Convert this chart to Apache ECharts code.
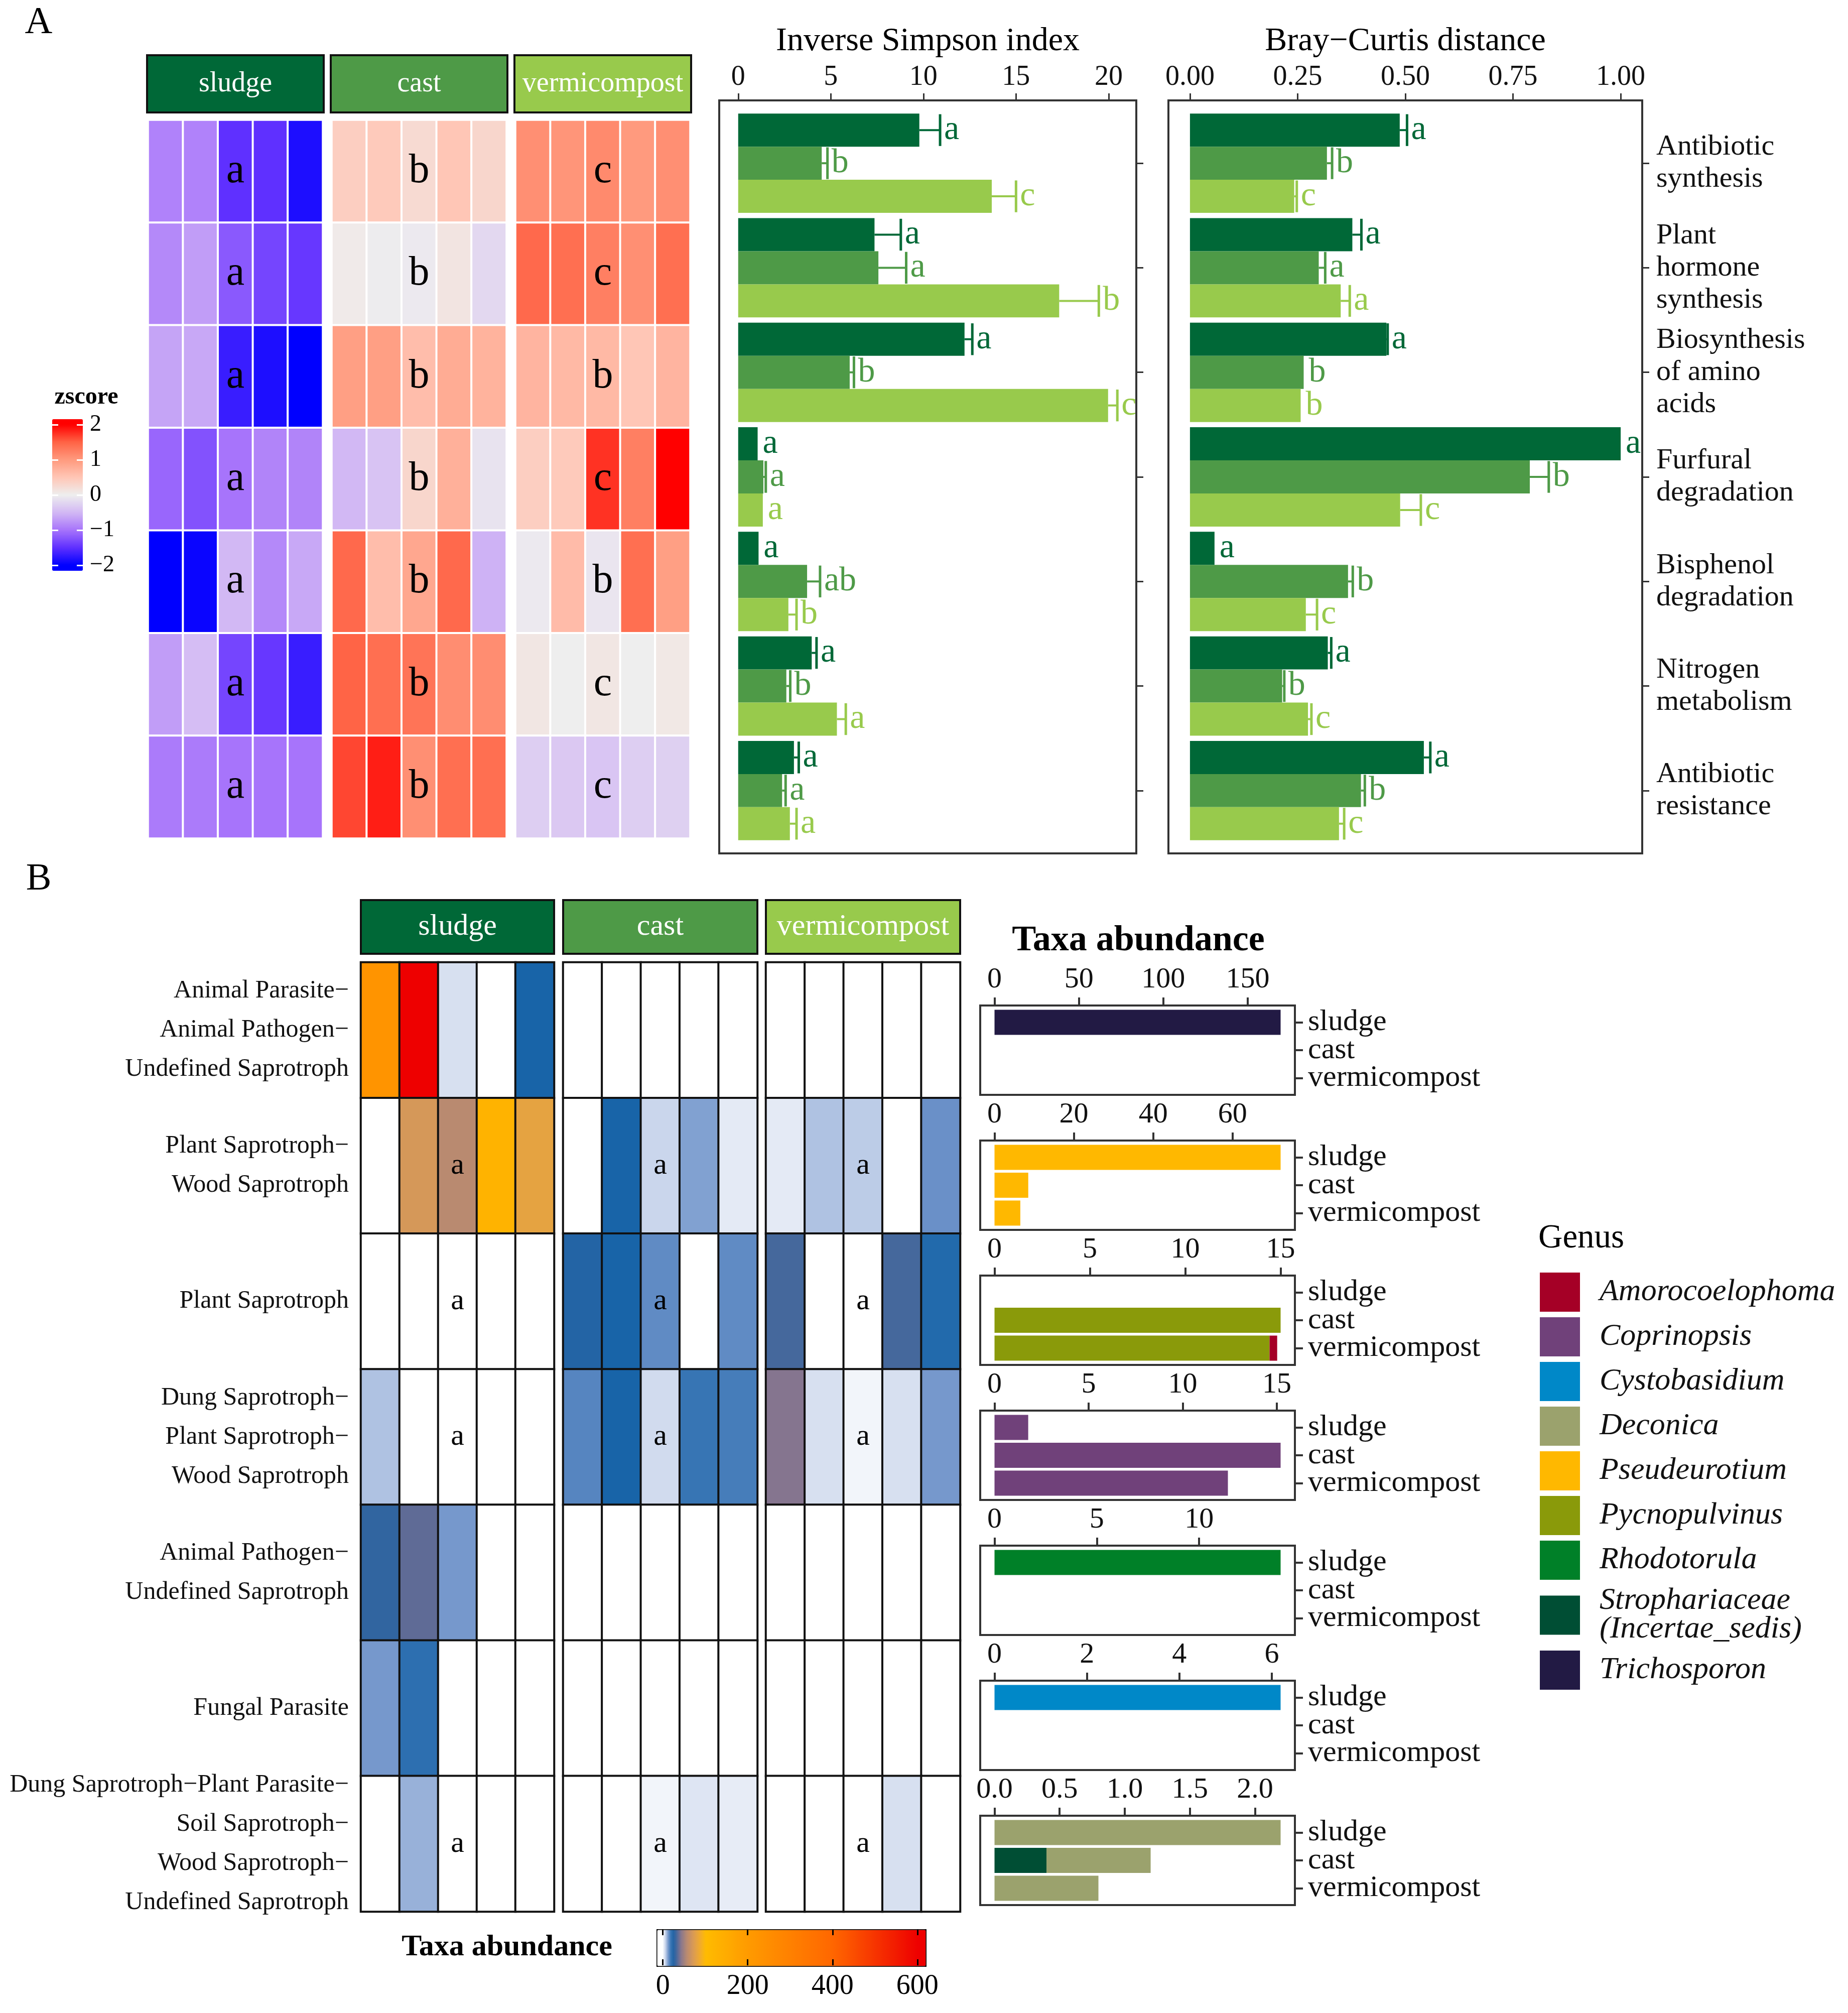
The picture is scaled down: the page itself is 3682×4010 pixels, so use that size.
<!DOCTYPE html>
<html><head><meta charset="utf-8">
<script src="https://cdn.jsdelivr.net/npm/echarts@6/dist/echarts.min.js"></script>
<style>html,body{margin:0;padding:0;background:#fff}#c{width:3682px;height:4010px}</style>
</head><body><div id="c"></div>
<script>
// ================= DATA =================
const groups = ['sludge', 'cast', 'vermicompost'];
const functionsA = ['Antibiotic\nsynthesis', 'Plant\nhormone\nsynthesis', 'Biosynthesis\nof amino\nacids',
  'Furfural\ndegradation', 'Bisphenol\ndegradation', 'Nitrogen\nmetabolism', 'Antibiotic\nresistance'];
const sampleCols = ['1', '2', '3', '4', '5'];
const zscoreTicks = [2, 1, 0, -1, -2];

// z-score heatmap (rows = functionsA, 5 replicates per group)
const heatA_sludge = [
  [-0.9, -0.9, -1.5, -1.5, -1.85],
  [-0.85, -0.7, -1.2, -1.35, -1.45],
  [-0.65, -0.62, -1.7, -1.85, -2.05],
  [-1.1, -1.25, -1.0, -0.88, -0.88],
  [-2.05, -1.95, -0.5, -0.85, -0.62],
  [-0.7, -0.45, -1.35, -1.45, -1.7],
  [-0.95, -0.95, -1.0, -1.0, -1.0]];
const heatA_cast = [
  [0.4, 0.45, 0.25, 0.5, 0.3],
  [0.05, -0.02, -0.05, 0.12, -0.2],
  [0.95, 0.95, 0.6, 0.8, 0.72],
  [-0.5, -0.4, 0.3, 0.75, -0.1],
  [1.45, 0.6, 0.85, 1.45, -0.55],
  [1.5, 1.4, 1.35, 1.12, 1.12],
  [1.65, 1.85, 1.1, 1.4, 1.4]];
const heatA_vermi = [
  [1.1, 1.05, 1.15, 1.0, 1.1],
  [1.45, 1.4, 1.25, 1.1, 1.4],
  [0.7, 0.65, 0.65, 0.5, 0.7],
  [0.4, 0.45, 1.75, 1.25, 2.05],
  [-0.05, 0.62, -0.08, 1.4, 0.95],
  [0.1, 0.0, 0.1, 0.0, 0.08],
  [-0.3, -0.35, -0.38, -0.3, -0.28]];
const heatA_letters_sludge = ['a', 'a', 'a', 'a', 'a', 'a', 'a'];
const heatA_letters_cast = ['b', 'b', 'b', 'b', 'b', 'b', 'b'];
const heatA_letters_vermi = ['c', 'c', 'b', 'c', 'b', 'c', 'c'];

// Inverse Simpson index
const invSimpsonTicks = [0, 5, 10, 15, 20];
const invMean_sludge = [9.78, 7.36, 12.22, 1.05, 1.10, 3.97, 3.01];
const invUpper_sludge = [10.90, 8.78, 12.64, 1.05, 1.10, 4.23, 3.27];
const invMean_cast = [4.51, 7.57, 6.02, 1.36, 3.72, 2.60, 2.37];
const invUpper_cast = [4.82, 9.07, 6.25, 1.49, 4.42, 2.81, 2.56];
const invMean_vermi = [13.69, 17.33, 19.97, 1.33, 2.71, 5.33, 2.79];
const invUpper_vermi = [15.00, 19.47, 20.47, 1.33, 3.15, 5.81, 3.15];
const invLetters_sludge = ['a', 'a', 'a', 'a', 'a', 'a', 'a'];
const invLetters_cast = ['b', 'a', 'b', 'a', 'ab', 'b', 'a'];
const invLetters_vermi = ['c', 'b', 'c', 'a', 'b', 'a', 'a'];

// Bray-Curtis distance
const brayTicks = [0, 0.25, 0.5, 0.75, 1.0];
const brayMean_sludge = [0.487, 0.377, 0.456, 1.000, 0.057, 0.320, 0.543];
const brayUpper_sludge = [0.504, 0.398, 0.459, 1.000, 0.057, 0.328, 0.558];
const brayMean_cast = [0.318, 0.299, 0.264, 0.789, 0.367, 0.214, 0.397];
const brayUpper_cast = [0.330, 0.314, 0.264, 0.833, 0.378, 0.219, 0.406];
const brayMean_vermi = [0.242, 0.350, 0.257, 0.488, 0.269, 0.274, 0.346];
const brayUpper_vermi = [0.248, 0.371, 0.257, 0.536, 0.295, 0.282, 0.358];
const brayLetters_sludge = ['a', 'a', 'a', 'a', 'a', 'a', 'a'];
const brayLetters_cast = ['b', 'a', 'b', 'b', 'b', 'b', 'b'];
const brayLetters_vermi = ['c', 'a', 'b', 'c', 'c', 'c', 'c'];

// Panel B: fungal guild heatmap (taxa abundance)
const guildsB = ['Animal Parasite\u2212\nAnimal Pathogen\u2212\nUndefined Saprotroph',
  'Plant Saprotroph\u2212\nWood Saprotroph',
  'Plant Saprotroph',
  'Dung Saprotroph\u2212\nPlant Saprotroph\u2212\nWood Saprotroph',
  'Animal Pathogen\u2212\nUndefined Saprotroph',
  'Fungal Parasite',
  'Dung Saprotroph\u2212Plant Parasite\u2212\nSoil Saprotroph\u2212\nWood Saprotroph\u2212\nUndefined Saprotroph'];
const abundTicks = [0, 200, 400, 600];
const heatB_sludge = [
  [225, 600, 3, 0, 20],
  [0, 68, 55, 125, 78],
  [0, 0, 0, 0, 0],
  [6, 0, 0, 0, 0],
  [27, 34, 11, 0, 0],
  [11, 18, 0, 0, 0],
  [0, 8, 0, 0, 0]];
const heatB_cast = [
  [0, 0, 0, 0, 0],
  [0, 20, 4, 10, 2],
  [23, 20, 13, 0, 13],
  [14, 20, 3.5, 17, 15.5],
  [0, 0, 0, 0, 0],
  [0, 0, 0, 0, 0],
  [0, 0, 1, 2.5, 1.8]];
const heatB_vermi = [
  [0, 0, 0, 0, 0],
  [2, 6, 5, 0, 12],
  [30, 0, 0, 30, 19],
  [40, 3, 1, 3, 11],
  [0, 0, 0, 0, 0],
  [0, 0, 0, 0, 0],
  [0, 0, 0, 3, 0]];
const heatB_letters = ['', 'a', 'a', 'a', '', '', 'a'];

// Panel B: genus bars (sludge, cast, vermicompost)
const genusNames = ['Amorocoelophoma', 'Coprinopsis', 'Cystobasidium', 'Deconica', 'Pseudeurotium',
  'Pycnopulvinus', 'Rhodotorula', 'Strophariaceae\n(Incertae_sedis)', 'Trichosporon'];
const bar1_Trichosporon = [169.5, 0, 0];
const bar2_Pseudeurotium = [72.1, 8.5, 6.5];
const bar3_Pycnopulvinus = [0, 15.0, 14.42];
const bar3_Amorocoelophoma = [0, 0, 0.40];
const bar4_Coprinopsis = [1.79, 15.2, 12.4];
const bar5_Rhodotorula = [13.98, 0, 0];
const bar6_Cystobasidium = [6.19, 0, 0];
const bar7_Strophariaceae = [0, 0.399, 0];
const bar7_Deconica = [2.197, 0.80, 0.798];
const bar1_ticks = [0, 50, 100, 150];
const bar2_ticks = [0, 20, 40, 60];
const bar3_ticks = [0, 5, 10, 15];
const bar4_ticks = [0, 5, 10, 15];
const bar5_ticks = [0, 5, 10];
const bar6_ticks = [0, 2, 4, 6];
const bar7_ticks = [0, 0.5, 1.0, 1.5, 2.0];

// ================= STYLE =================
const FONT = 'Liberation Serif';
const groupColors = ['#006837', '#4E9A47', '#98CA4C'];
const genusColors = {
  'Amorocoelophoma': '#A50026', 'Coprinopsis': '#70417A', 'Cystobasidium': '#0088C8', 'Deconica': '#9BA26D',
  'Pseudeurotium': '#FFB800', 'Pycnopulvinus': '#8A9A0A', 'Rhodotorula': '#008028',
  'Strophariaceae\n(Incertae_sedis)': '#004E34', 'Trichosporon': '#221A44'};
const zStops = [[-2, '#0000FF'], [-1.5, '#5F30FF'], [-1, '#A774FB'], [-0.5, '#D2B8F4'], [0, '#EEEEEE'],
  [0.5, '#FFC6B6'], [1, '#FF9A7E'], [1.5, '#FF6446'], [2, '#FF0000']];
const abundStops = [[0, '#FFFFFF'], [2, '#E4EAF5'], [6, '#AFC2E2'], [12, '#6A90C8'], [20, '#1864A8'],
  [27, '#3165A0'], [34, '#5F6B96'], [40, '#85758F'], [55, '#B98A70'], [70, '#D99A55'], [85, '#F0AA30'],
  [100, '#FFBB00'], [200, '#FF9A00'], [400, '#FF6600'], [600, '#EE0000']];

function hex2rgb(h) { return [1, 3, 5].map(i => parseInt(h.substr(i, 2), 16)); }
function colorAt(stops, v) {
  if (v <= stops[0][0]) return stops[0][1];
  if (v >= stops[stops.length - 1][0]) return stops[stops.length - 1][1];
  for (let i = 0; i < stops.length - 1; i++) {
    const a = stops[i], b = stops[i + 1];
    if (v >= a[0] && v <= b[0]) {
      const t = (v - a[0]) / (b[0] - a[0]);
      const ca = hex2rgb(a[1]), cb = hex2rgb(b[1]);
      const c = ca.map((x, k) => Math.round(x + (cb[k] - x) * t));
      return 'rgb(' + c.join(',') + ')';
    }
  }
}
function sampleColors(stops, lo, hi, n) {
  const out = [];
  for (let i = 0; i < n; i++) out.push(colorAt(stops, lo + (hi - lo) * i / (n - 1)));
  return out;
}

const grids = [], xAxes = [], yAxes = [], series = [], graphics = [];
function addCartesian(g, xo, yo) {
  const gi = grids.length;
  grids.push(Object.assign({outerBoundsMode: 'none', containLabel: false, show: false}, g));
  const xi = xAxes.length; xAxes.push(Object.assign({gridIndex: gi}, xo));
  const yi = yAxes.length; yAxes.push(Object.assign({gridIndex: gi}, yo));
  return {gi, xi, yi};
}
function txt(text, x, y, size, opts) {
  graphics.push({type: 'text', x, y, z: 50, style: Object.assign({
    text, fill: '#000', font: (opts && opts.weight ? opts.weight + ' ' : '') + size + 'px "' + FONT + '"',
    textAlign: 'center', textVerticalAlign: 'middle'}, opts && opts.style)});
}
function frame(x, y, w, h) {
  graphics.push({type: 'rect', z: 40, shape: {x, y, width: w, height: h},
    style: {fill: 'none', stroke: '#333', lineWidth: 4}});
}
function strip(x, y, w, h, color, label, size) {
  graphics.push({type: 'rect', z: 40, shape: {x, y, width: w, height: h},
    style: {fill: color, stroke: '#111', lineWidth: 4}});
  txt(label, x + w / 2, y + h / 2, size, {style: {fill: '#fff'}});
}
const AXLINE = {show: true, onZero: false, lineStyle: {color: '#333', width: 4}};

// ---------- Panel A heatmap ----------
txt('A', 77, 46, 76);
const heatA = [heatA_sludge, heatA_cast, heatA_vermi];
const heatALetters = [heatA_letters_sludge, heatA_letters_cast, heatA_letters_vermi];
const heatALeft = [295, 661, 1027];
const heatASeries = [];
for (let g = 0; g < 3; g++) {
  strip(heatALeft[g] - 2, 110, 352, 114, groupColors[g], groups[g], 56);
  const ax = addCartesian({left: heatALeft[g], top: 239, width: 348, height: 1431},
    {type: 'category', data: sampleCols, show: false},
    {type: 'category', data: functionsA, inverse: true, show: false});
  heatASeries.push(series.length);
  const letters = heatALetters[g];
  series.push({type: 'heatmap', xAxisIndex: ax.xi, yAxisIndex: ax.yi,
    data: heatA[g].flatMap((row, r) => row.map((v, c) => [c, r, v])),
    itemStyle: {borderColor: '#fff', borderWidth: 4},
    emphasis: {disabled: true},
    label: {show: true, fontFamily: FONT, fontSize: 82, color: '#000',
      formatter: p => (p.data[0] === 2 ? letters[p.data[1]] : '')}});
}
// zscore legend axes
txt('zscore', 172, 792, 48, {weight: 'bold'});
const zAx = addCartesian({left: 104, top: 835, width: 61, height: 302},
  {type: 'value', show: false, min: 0, max: 1},
  {type: 'value', min: -2.16, max: 2.16, position: 'right', z: 10,
    axisLine: {show: false, onZero: false}, splitLine: {show: false},
    axisTick: {show: true, inside: true, length: 12, lineStyle: {color: '#fff', width: 3}, customValues: zscoreTicks},
    axisLabel: {show: true, customValues: zscoreTicks, margin: 14, fontSize: 46, fontFamily: FONT, color: '#000',
      formatter: v => String(v).replace('-', '\u2212')}});
yAxes.push({gridIndex: zAx.gi, type: 'value', min: -2.16, max: 2.16, position: 'left', z: 10,
  axisLine: {show: false, onZero: false}, splitLine: {show: false},
  axisTick: {show: true, inside: true, length: 12, lineStyle: {color: '#fff', width: 3}, customValues: zscoreTicks},
  axisLabel: {show: false}});

// ---------- Panel A bar charts ----------
function errSeries(ax, means, uppers, letters, k, color) {
  return {type: 'custom', xAxisIndex: ax.xi, yAxisIndex: ax.yi, clip: false, z: 5,
    encode: {x: [1, 2], y: 0}, silent: true,
    data: means.map((m, i) => [i, m, uppers[i]]),
    renderItem: (params, api) => {
      const cat = api.value(0), m = api.value(1), u = api.value(2);
      const p0 = api.coord([m, cat]), p1 = api.coord([u, cat]);
      const band = api.size([0, 1])[1];
      const bh = band * 0.95 / 3;
      const y = p0[1] + (k - 1) * bh;
      const ch = [];
      const has = u > m;
      if (has) {
        ch.push({type: 'line', shape: {x1: p0[0], y1: y, x2: p1[0], y2: y}, style: {stroke: color, lineWidth: 4}});
        ch.push({type: 'line', shape: {x1: p1[0], y1: y - bh * 0.48, x2: p1[0], y2: y + bh * 0.48},
          style: {stroke: color, lineWidth: 5}});
      }
      ch.push({type: 'text', style: {text: letters[params.dataIndex], x: p1[0] + (has ? 8 : 10), y: y,
        fill: color, font: '68px "' + FONT + '"', textAlign: 'left', textVerticalAlign: 'middle'}});
      return {type: 'group', children: ch};
    }};
}
function barPanelA(left, width, title, ticks, fmt, means, uppers, letters, showLabels) {
  const M = Math.max(...uppers.flat());
  frame(left, 200, width, 1500);
  const ax = addCartesian({left: left, top: 221, width: width, height: 1458},
    {type: 'value', position: 'top', offset: 21, min: -0.05 * M, max: 1.05 * M,
      axisLine: AXLINE, splitLine: {show: false},
      axisTick: {show: true, length: 14, lineStyle: {color: '#333', width: 3}, customValues: ticks},
      axisLabel: {show: true, customValues: ticks, margin: 18, fontSize: 56, fontFamily: FONT, color: '#111', formatter: fmt},
      name: title, nameLocation: 'middle', nameGap: 84,
      nameTextStyle: {fontSize: 66, fontFamily: FONT, color: '#000'}},
    {type: 'category', data: functionsA, inverse: true, position: 'right',
      axisLine: AXLINE,
      axisTick: {show: true, alignWithLabel: true, interval: 0, length: 14, lineStyle: {color: '#333', width: 3}},
      axisLabel: {show: showLabels, interval: 0, align: 'left', margin: 28, fontSize: 58, lineHeight: 64,
        fontFamily: FONT, color: '#111'}});
  for (let k = 0; k < 3; k++) {
    series.push({type: 'bar', xAxisIndex: ax.xi, yAxisIndex: ax.yi, data: means[k], barGap: '0%',
      barCategoryGap: '5%', itemStyle: {color: groupColors[k]}, silent: true});
  }
  for (let k = 0; k < 3; k++) series.push(errSeries(ax, means[k], uppers[k], letters[k], k, groupColors[k]));
}
barPanelA(1433, 831, 'Inverse Simpson index', invSimpsonTicks, v => String(v),
  [invMean_sludge, invMean_cast, invMean_vermi], [invUpper_sludge, invUpper_cast, invUpper_vermi],
  [invLetters_sludge, invLetters_cast, invLetters_vermi], false);
barPanelA(2328, 944, 'Bray\u2212Curtis distance', brayTicks, v => v.toFixed(2),
  [brayMean_sludge, brayMean_cast, brayMean_vermi], [brayUpper_sludge, brayUpper_cast, brayUpper_vermi],
  [brayLetters_sludge, brayLetters_cast, brayLetters_vermi], true);

// ---------- Panel B heatmap ----------
txt('B', 77, 1752, 76);
const heatB = [heatB_sludge, heatB_cast, heatB_vermi];
const heatBLeft = [719, 1122, 1526];
const heatBW = [385, 387, 387];
const heatBSeries = [];
for (let g = 0; g < 3; g++) {
  strip(heatBLeft[g], 1793, heatBW[g], 107, groupColors[g], groups[g], 60);
  const ax = addCartesian({left: heatBLeft[g], top: 1917, width: heatBW[g], height: 1891},
    {type: 'category', data: sampleCols, show: false},
    {type: 'category', data: guildsB, inverse: true, show: g === 0, position: 'left',
      axisLine: {show: false, onZero: false}, axisTick: {show: false},
      axisLabel: {interval: 0, align: 'right', margin: 24, fontSize: 50, lineHeight: 78,
        fontFamily: FONT, color: '#111'}});
  heatBSeries.push(series.length);
  series.push({type: 'heatmap', xAxisIndex: ax.xi, yAxisIndex: ax.yi,
    data: heatB[g].flatMap((row, r) => row.map((v, c) => [c, r, v])),
    itemStyle: {borderColor: '#111', borderWidth: 4},
    emphasis: {disabled: true},
    label: {show: true, fontFamily: FONT, fontSize: 60, color: '#000',
      formatter: p => (p.data[0] === 2 ? heatB_letters[p.data[1]] : '')}});
}
// colorbar axes
txt('Taxa abundance', 1010, 3879, 60, {weight: 'bold'});
const cbAx = addCartesian({left: 1308, top: 3843, width: 535, height: 72},
  {type: 'value', min: -15, max: 618, position: 'bottom', z: 10,
    axisLine: {show: false, onZero: false}, splitLine: {show: false},
    axisTick: {show: true, inside: true, length: 12, lineStyle: {color: '#000', width: 3}, customValues: abundTicks},
    axisLabel: {show: true, customValues: abundTicks, margin: 14, fontSize: 56, fontFamily: FONT, color: '#000'}},
  {type: 'value', show: false, min: 0, max: 1});
xAxes.push({gridIndex: cbAx.gi, type: 'value', min: -15, max: 618, position: 'top', z: 10,
  axisLine: {show: false, onZero: false}, splitLine: {show: false},
  axisTick: {show: true, inside: true, length: 12, lineStyle: {color: '#000', width: 3}, customValues: abundTicks},
  axisLabel: {show: false}});

// ---------- Panel B genus bars ----------
txt('Taxa abundance', 2268, 1874, 72, {weight: 'bold'});
const barPanelsB = [
  {ticks: bar1_ticks, fmt: v => String(v), parts: [['Trichosporon', bar1_Trichosporon]]},
  {ticks: bar2_ticks, fmt: v => String(v), parts: [['Pseudeurotium', bar2_Pseudeurotium]]},
  {ticks: bar3_ticks, fmt: v => String(v), parts: [['Pycnopulvinus', bar3_Pycnopulvinus], ['Amorocoelophoma', bar3_Amorocoelophoma]]},
  {ticks: bar4_ticks, fmt: v => String(v), parts: [['Coprinopsis', bar4_Coprinopsis]]},
  {ticks: bar5_ticks, fmt: v => String(v), parts: [['Rhodotorula', bar5_Rhodotorula]]},
  {ticks: bar6_ticks, fmt: v => String(v), parts: [['Cystobasidium', bar6_Cystobasidium]]},
  {ticks: bar7_ticks, fmt: v => v.toFixed(1), parts: [['Strophariaceae\n(Incertae_sedis)', bar7_Strophariaceae], ['Deconica', bar7_Deconica]]}
];
barPanelsB.forEach((p, i) => {
  const top = 2003 + 269 * i;
  const totals = [0, 1, 2].map(c => p.parts.reduce((s, q) => s + q[1][c], 0));
  const M = Math.max(...totals);
  frame(1953, top, 627, 178);
  const ax = addCartesian({left: 1953, top: top + 5.6, width: 627, height: 166.8},
    {type: 'value', position: 'top', offset: 5.6, min: -0.05 * M, max: 1.05 * M,
      axisLine: AXLINE, splitLine: {show: false},
      axisTick: {show: true, length: 16, lineStyle: {color: '#333', width: 4}, customValues: p.ticks},
      axisLabel: {show: true, customValues: p.ticks, margin: 22, fontSize: 58, fontFamily: FONT, color: '#111', formatter: p.fmt}},
    {type: 'category', data: groups, inverse: true, position: 'right',
      axisLine: AXLINE,
      axisTick: {show: true, alignWithLabel: true, interval: 0, length: 16, lineStyle: {color: '#333', width: 4}},
      axisLabel: {interval: 0, align: 'left', margin: 26, fontSize: 60, fontFamily: FONT, color: '#111'}});
  p.parts.forEach(q => {
    series.push({type: 'bar', name: q[0], xAxisIndex: ax.xi, yAxisIndex: ax.yi, stack: 'p' + i,
      data: q[1].map(v => (v === 0 ? '-' : v)), barCategoryGap: '10%',
      itemStyle: {color: genusColors[q[0]]}, silent: true});
  });
});

// Genus legend title
txt('Genus', 3065, 2467, 67, {style: {textAlign: 'left'}});

const option = {
  backgroundColor: '#fff',
  animation: false,
  textStyle: {fontFamily: FONT},
  grid: grids, xAxis: xAxes, yAxis: yAxes, series: series,
  graphic: {elements: graphics},
  legend: {orient: 'vertical', left: 3068, top: 2535, itemWidth: 80, itemHeight: 78, itemGap: 11,
    icon: 'rect', selectedMode: false, padding: 0, data: genusNames,
    textStyle: {fontFamily: FONT, fontStyle: 'italic', fontSize: 62, lineHeight: 57, color: '#111', padding: [0, 0, 0, 34]}},
  visualMap: [
    {type: 'continuous', seriesIndex: heatASeries, min: -2.16, max: 2.16, calculable: false, hoverLink: false,
      inRange: {color: sampleColors(zStops, -2.16, 2.16, 217)}, orient: 'vertical', left: 104, top: 835,
      itemWidth: 61, itemHeight: 302, padding: 0, text: null, showLabel: false},
    {type: 'continuous', seriesIndex: heatBSeries, min: -15, max: 618, calculable: false, hoverLink: false,
      inRange: {color: sampleColors(abundStops, -15, 618, 634)}, orient: 'horizontal', left: 1308, top: 3843,
      itemWidth: 72, itemHeight: 535, padding: 0, text: null, showLabel: false,
      borderColor: '#000', borderWidth: 3}
  ]
};
const chart = echarts.init(document.getElementById('c'), null, {width: 3682, height: 4010});
chart.setOption(option);
</script></body></html>
